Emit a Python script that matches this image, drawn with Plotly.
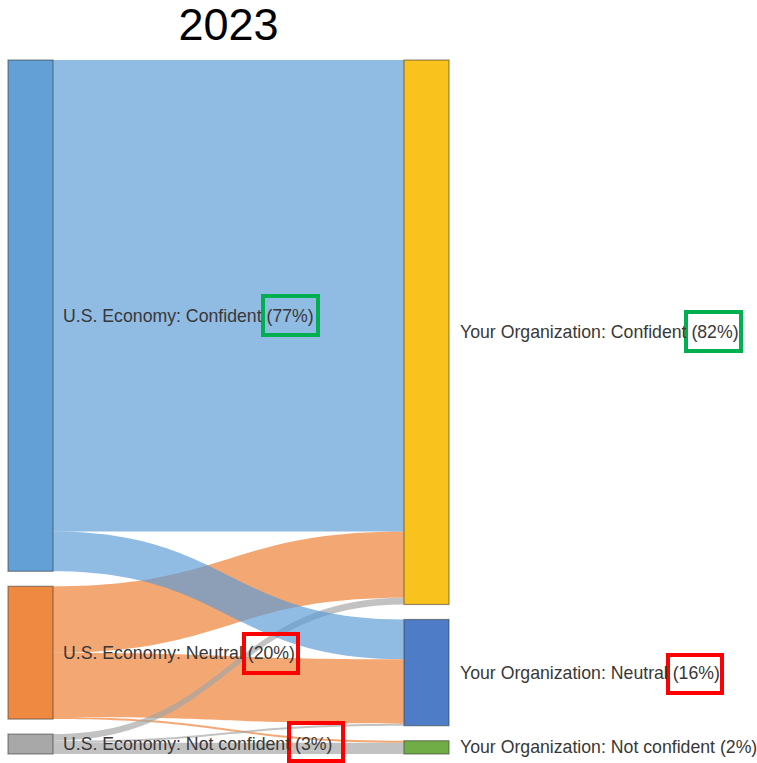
import plotly.graph_objects as go

W, H = 757, 763

# Node names and shares (percent of respondents)
left_labels = ["U.S. Economy: Confident", "U.S. Economy: Neutral", "U.S. Economy: Not confident"]
left_pct = [77, 20, 3]
right_labels = ["Your Organization: Confident", "Your Organization: Neutral", "Your Organization: Not confident"]
right_pct = [82, 16, 2]

# Flows: source index (left), target index (right), value (%)
# listed so that the blue flows are painted last, on top
link_source = [1, 1, 1, 2, 2, 2, 0, 0]
link_target = [3, 4, 5, 3, 4, 5, 3, 4]
link_value = [10, 9.7, 0.3, 1, 0.3, 1.7, 71, 6]

node_colors = ["#62a0d6", "#ef8840", "#a8a8a8", "#f9c21c", "#4e7cc6", "#70ad47"]
link_palette = ["rgba(91,155,213,0.68)", "rgba(237,125,49,0.68)", "rgba(165,165,165,0.68)"]

FONT = "Arial, Liberation Sans, sans-serif"
TEXT_SIZE = 17.7
TEXT_COLOR = "#383838"

# Sankey placement inside the page (pixels)
X0, X1 = 8, 449
Y0, Y1 = 60, 754
PAD = 15
THICK = 45


def px(x):
    return x / W


def py(y):
    return 1 - y / H


fig = go.Figure(go.Sankey(
    domain=dict(x=[px(X0), px(X1)], y=[py(Y1), py(Y0)]),
    arrangement="snap",
    node=dict(
        label=[""] * 6,
        color=node_colors,
        pad=PAD,
        thickness=THICK,
        line=dict(color="rgba(60,60,60,0.55)", width=1.2),
        hoverinfo="skip",
    ),
    link=dict(
        source=link_source,
        target=link_target,
        value=link_value,
        color=[link_palette[s] for s in link_source],
        hoverinfo="skip",
    ),
))


def add_column_labels(labels, pcts, x_left):
    # centre each label on its node, stacking nodes top-down with the node padding
    scale = (Y1 - Y0 - PAD * (len(pcts) - 1)) / sum(pcts)
    top = Y0
    for lab, p in zip(labels, pcts):
        h = p * scale
        fig.add_annotation(
            x=px(x_left), y=py(top + h / 2), xref="paper", yref="paper",
            text=f"{lab} ({p}%)", showarrow=False, xanchor="left", yanchor="middle",
            xshift=-1, font=dict(family=FONT, size=TEXT_SIZE, color=TEXT_COLOR),
        )
        top += h + PAD


add_column_labels(left_labels, left_pct, X0 + THICK + 9)
add_column_labels(right_labels, right_pct, X1 + 10)

# Highlight boxes around the key percentages
boxes = [
    (263, 296, 318, 335, "#00b050"),
    (686, 312, 741, 351, "#00b050"),
    (244, 634, 298, 673, "#ff0000"),
    (289, 723, 343, 761, "#ff0000"),
    (668, 655, 722, 693, "#ff0000"),
]
for x0, y0, x1, y1, c in boxes:
    fig.add_shape(type="rect", xref="paper", yref="paper",
                  x0=px(x0), x1=px(x1), y0=py(y1), y1=py(y0),
                  line=dict(color=c, width=4))

fig.update_layout(
    width=W, height=H,
    margin=dict(l=0, r=0, t=0, b=0),
    paper_bgcolor="white",
    title=dict(text="2023", x=px((X0 + X1) / 2), xanchor="center",
               y=py(24), yanchor="middle", yref="container",
               font=dict(family=FONT, size=45, color="black")),
)

fig.write_html("out.html")
